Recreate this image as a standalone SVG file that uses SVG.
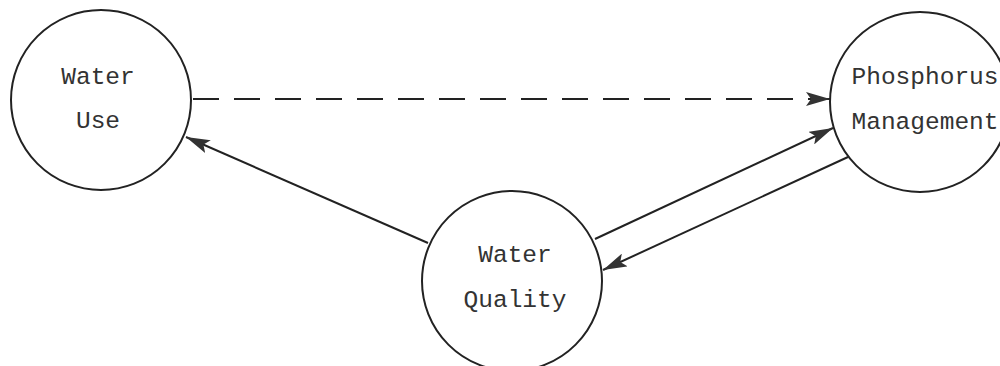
<svg xmlns="http://www.w3.org/2000/svg" width="1000" height="366" viewBox="0 0 1000 366">
<style>
.node{fill:#fff;stroke:#222;stroke-width:2}
.lbl{font-family:"Liberation Mono","DejaVu Sans Mono",monospace;font-size:24.5px;fill:#333;text-anchor:middle}
.edge{stroke:#222;stroke-width:2;fill:none}
</style>
<defs>
<marker id="ah" viewBox="0 0 24 14" refX="24" refY="7" markerWidth="24" markerHeight="14" markerUnits="userSpaceOnUse" orient="auto">
<path d="M0,0 L24,7 L0,14 L5,7 Z" fill="#333"/>
</marker>
</defs>
<rect width="1000" height="366" fill="#fff"/>
<g id="connectors">
<line class="edge" x1="193" y1="99" x2="830" y2="99" stroke-dasharray="26,15" marker-end="url(#ah)"/>
<line class="edge" x1="428" y1="243" x2="186" y2="137" marker-end="url(#ah)"/>
<line class="edge" x1="595" y1="239" x2="833" y2="128" marker-end="url(#ah)"/>
<line class="edge" x1="848" y1="157" x2="603" y2="270" marker-end="url(#ah)"/>
</g>
<g id="water-use">
<circle class="node" cx="101" cy="100" r="90"/>
<text class="lbl" x="98" y="84">Water</text>
<text class="lbl" x="98" y="128">Use</text>
</g>
<g id="phosphorus-management">
<circle class="node" cx="920" cy="102" r="90"/>
<text class="lbl" x="925" y="84">Phosphorus</text>
<text class="lbl" x="925" y="129">Management</text>
</g>
<g id="water-quality">
<circle class="node" cx="512" cy="281" r="90"/>
<text class="lbl" x="515" y="262">Water</text>
<text class="lbl" x="515" y="307">Quality</text>
</g>
</svg>
